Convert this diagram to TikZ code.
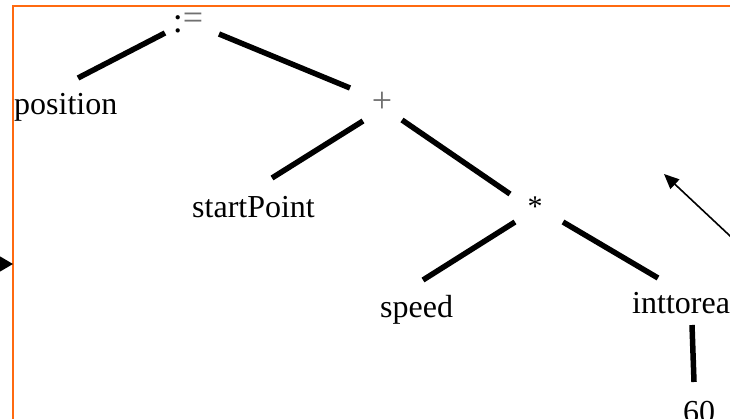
\documentclass[tikz,border=0pt]{standalone}
\usepackage{fontspec}
\setmainfont{Liberation Serif}
\usetikzlibrary{arrows.meta}
\definecolor{frameorange}{HTML}{FF6A10}
\definecolor{opgray}{HTML}{707070}
\begin{document}
\begin{tikzpicture}[x=1pt,y=-1pt,
  lbl/.style={inner sep=0pt,anchor=base west,font=\fontsize{32}{38}\selectfont},
  op/.style={inner sep=0pt,font=\fontsize{36}{40}\selectfont,text=opgray},
  edge/.style={line width=5.5pt,black},
  pointer/.style={line width=1.6pt,-{Triangle[length=15pt,width=13pt]}},
  bigpointer/.style={line width=1.6pt,-{Triangle[length=14pt,width=16pt]}}]
\clip (0,0) rectangle (730,419);
\useasboundingbox (0,0) rectangle (730,419);
% frame
\draw[frameorange,line width=2pt] (13,6) rectangle (760,450);
% tree nodes
\node[op] (assign) at (188,23) {{\color{black}:}\raisebox{3pt}{=}};
\node[op] (plus) at (382,102) {+};
\node[op,text=black,font=\fontsize{30}{36}\selectfont] (times) at (535,207) {*};
\node[lbl] (pos) at (14,115) {position};
\node[lbl] (start) at (192,218) {startPoint};
\node[lbl] (speed) at (380,317) {speed};
\node[lbl] (itr) at (632,313) {inttoreal};
\node[lbl] (sixty) at (683,422) {60};
% tree edges
\draw[edge] ([shift={(-23,10)}]assign.center) -- ([shift={(64,-37)}]pos.base west);
\draw[edge] ([shift={(31,11)}]assign.center) -- ([shift={(-32,-14)}]plus.center);
\draw[edge] ([shift={(-19,19)}]plus.center) -- ([shift={(80,-40)}]start.base west);
\draw[edge] ([shift={(20,18)}]plus.center) -- ([shift={(-25,-13)}]times.center);
\draw[edge] ([shift={(-20,15)}]times.center) -- ([shift={(43,-37)}]speed.base west);
\draw[edge] ([shift={(28,15)}]times.center) -- ([shift={(26,-35)}]itr.base west);
\draw[edge] ([shift={(60,12)}]itr.base west) -- ([shift={(11,-40)}]sixty.base west);
% pointers
\coordinate (lefttail) at (-20,264);
\coordinate (righttail) at (745,250);
\coordinate (righttip) at (664,174);
\draw[bigpointer] (lefttail) -- (13,264);
\draw[pointer] (righttail) -- (righttip);
\end{tikzpicture}
\end{document}
